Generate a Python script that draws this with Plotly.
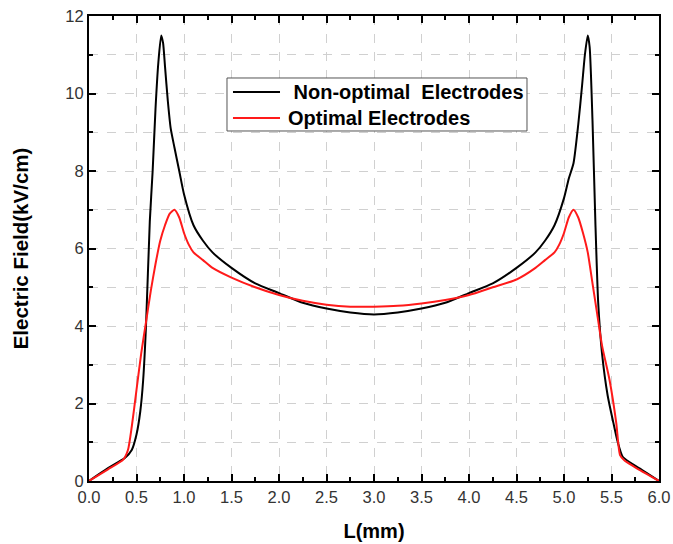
import plotly.graph_objects as go

black_x = [0, 0.2, 0.38, 0.45, 0.5, 0.54, 0.57, 0.6, 0.64, 0.67, 0.7, 0.73, 0.76, 0.78, 0.8,
           0.83, 0.86, 0.9, 0.95, 1.0, 1.1, 1.2, 1.3, 1.5, 1.75, 2.0, 2.25, 2.5, 2.75, 3.0,
           3.25, 3.5, 3.75, 4.0, 4.25, 4.5, 4.7, 4.8, 4.9, 5.0, 5.05, 5.1, 5.15, 5.19, 5.22,
           5.25, 5.27, 5.3, 5.33, 5.36, 5.4, 5.46, 5.52, 5.56, 5.62, 5.8, 6.0]
black_y = [0, 0.33, 0.6, 0.8, 1.2, 1.8, 2.6, 4.0, 6.7, 8.0, 9.6, 10.8, 11.5, 11.3, 10.7,
           9.8, 9.1, 8.6, 8.0, 7.4, 6.6, 6.2, 5.9, 5.5, 5.1, 4.85, 4.6, 4.45, 4.35, 4.3,
           4.35, 4.45, 4.6, 4.85, 5.1, 5.5, 5.9, 6.2, 6.6, 7.3, 7.8, 8.2, 9.2, 10.2, 11.0,
           11.5, 11.2, 9.3, 6.7, 4.6, 3.3, 2.2, 1.5, 1.06, 0.62, 0.32, 0]

red_x = [0, 0.2, 0.36, 0.41, 0.45, 0.5, 0.55, 0.6, 0.65, 0.7, 0.75, 0.8, 0.85, 0.9, 0.95,
         1.0, 1.05, 1.1, 1.2, 1.3, 1.5, 1.75, 2.0, 2.25, 2.5, 2.75, 3.0, 3.25, 3.5, 3.75,
         4.0, 4.25, 4.5, 4.7, 4.8, 4.9, 4.95, 5.0, 5.05, 5.1, 5.15, 5.2, 5.25, 5.3, 5.35,
         5.4, 5.48, 5.55, 5.59, 5.64, 5.8, 6.0]
red_y = [0, 0.3, 0.55, 0.8, 1.4, 2.35, 3.3, 4.1, 4.9, 5.6, 6.2, 6.6, 6.9, 7.0, 6.8,
         6.4, 6.1, 5.9, 5.7, 5.5, 5.25, 5.0, 4.8, 4.65, 4.55, 4.5, 4.5, 4.52, 4.58, 4.67,
         4.8, 5.0, 5.2, 5.5, 5.7, 5.9, 6.1, 6.4, 6.8, 7.0, 6.8, 6.4, 5.9, 5.1, 4.3,
         3.5, 2.6, 1.5, 0.67, 0.52, 0.28, 0]

series_names = ["\u00a0Non-optimal\u00a0\u00a0Electrodes", "Optimal Electrodes"]
series_colors = ["black", "#ff1a1a"]

x_ticks = [0, 0.5, 1, 1.5, 2, 2.5, 3, 3.5, 4, 4.5, 5, 5.5, 6]
x_labels = ["0.0", "0.5", "1.0", "1.5", "2.0", "2.5", "3.0", "3.5", "4.0", "4.5", "5.0", "5.5", "6.0"]
y_ticks = [0, 2, 4, 6, 8, 10, 12]

fig = go.Figure()
for xs, ys, nm, col in [(black_x, black_y, series_names[0], series_colors[0]),
                        (red_x, red_y, series_names[1], series_colors[1])]:
    fig.add_trace(go.Scatter(x=xs, y=ys, mode="lines", name=nm, showlegend=False,
                             line=dict(color=col, width=2, shape="spline", smoothing=0.6)))

# custom legend box (paper coordinates of the plot area)
leg_x0, leg_x1, leg_y0, leg_y1 = 0.2421, 0.7684, 0.7527, 0.8667
row_y = [0.8366, 0.7806]
sample_x0, sample_x1, text_x = 0.2526, 0.3351, 0.3456
fig.add_shape(type="rect", xref="paper", yref="paper", x0=leg_x0, x1=leg_x1, y0=leg_y0, y1=leg_y1,
              line=dict(color="#555555", width=1), fillcolor="white", layer="above")
for i in range(2):
    fig.add_shape(type="line", xref="paper", yref="paper", x0=sample_x0, x1=sample_x1,
                  y0=row_y[i], y1=row_y[i], line=dict(color=series_colors[i], width=2), layer="above")
    fig.add_annotation(xref="paper", yref="paper", x=text_x, y=row_y[i], xanchor="left", yanchor="middle",
                       text="<b>" + series_names[i] + "</b>", showarrow=False,
                       font=dict(family="Arial", size=20, color="black"))

axis_common = dict(showline=True, linecolor="black", linewidth=2, mirror="ticks",
                   ticks="inside", ticklen=7, tickwidth=2, tickcolor="black",
                   zeroline=False, automargin=False,
                   tickfont=dict(family="Arial", size=16.5, color="#333333"),
                   gridcolor="#d0d0d0", griddash="dash", gridwidth=1)

fig.update_layout(
    width=673, height=544,
    margin=dict(l=89, r=14, t=16, b=63),
    paper_bgcolor="white", plot_bgcolor="white",
    showlegend=False,
    xaxis=dict(range=[0, 6], tickvals=x_ticks, ticktext=x_labels,
               minor=dict(dtick=0.25, ticks="inside", ticklen=4, tickwidth=2, tickcolor="black", showgrid=False),
               title=dict(text="<b>L(mm)</b>", font=dict(family="Arial", size=20, color="black"), standoff=19),
               **axis_common),
    yaxis=dict(range=[0, 12], tickvals=y_ticks,
               minor=dict(dtick=1, ticks="inside", ticklen=4, tickwidth=2, tickcolor="black",
                          showgrid=True, gridcolor="#d0d0d0", griddash="dash", gridwidth=1),
               title=dict(text="<b>Electric Field(kV/cm)</b>", font=dict(family="Arial", size=20.5, color="black"), standoff=31),
               **axis_common),
)

fig.write_html("out.html")
